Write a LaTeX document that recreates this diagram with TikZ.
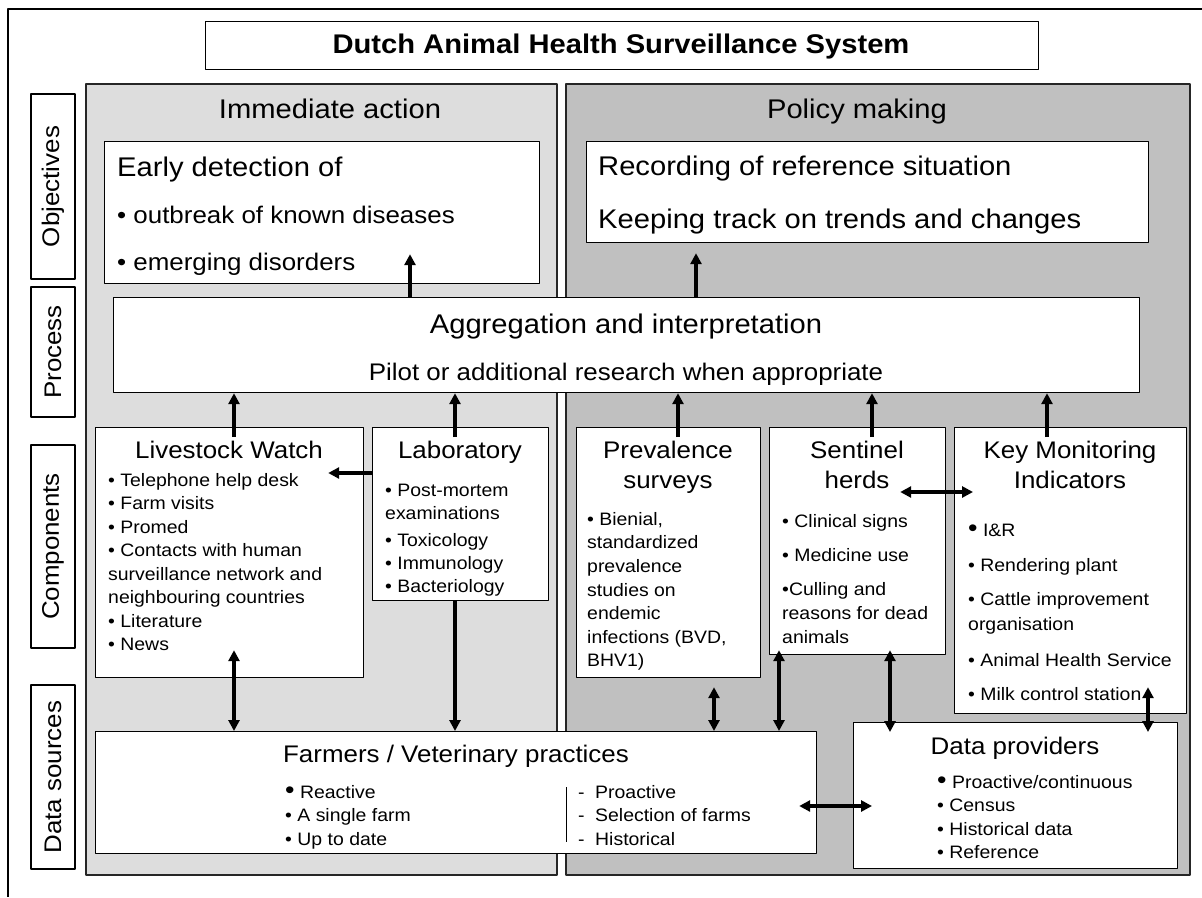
\documentclass[tikz,border=0pt]{standalone}
\usepackage{fontspec}
\setmainfont{Liberation Sans}[FakeStretch=1.08]
\usetikzlibrary{arrows.meta}
\definecolor{immgray}{RGB}{221,221,221}
\definecolor{polgray}{RGB}{192,192,192}
\newcommand{\bigbul}{\smash{\fontsize{25}{25}\selectfont •}}
\begin{document}
\begin{tikzpicture}[x=1pt, y=-1pt, line join=round, >={Triangle[length=11pt,width=11pt]},
    box/.style={draw, fill=white, line width=1.2pt, anchor=north west, inner sep=0pt},
    rowlab/.style={draw, fill=white, line width=1.4pt, rotate=90, minimum height=44pt, inner sep=0pt, font=\fontsize{24}{28}\selectfont},
    big/.style={font=\fontsize{27}{32}\selectfont, inner sep=0pt},
    mid/.style={font=\fontsize{24}{30}\selectfont, inner sep=0pt},
    body/.style={font=\fontsize{18}{23.5}\selectfont, inner sep=0pt, anchor=north west, align=left},
    arr/.style={->, line width=3.5pt},
    darr/.style={<->, line width=3.5pt}]
    \useasboundingbox (0,0) rectangle (1202,897);
    %%%%%%%%%%%%%%%%%%%%%%%%%%%%%%%%%
    \coordinate (c1) at (410,0);
    \coordinate (c2) at (696,0);
    \coordinate (c3) at (234,0);
    \coordinate (c4) at (455,0);
    \coordinate (c5) at (678,0);
    \coordinate (c6) at (872,0);
    \coordinate (c7) at (1047,0);
    \coordinate (c8) at (714,0);
    \coordinate (c9) at (779,0);
    \coordinate (c10) at (890,0);
    \coordinate (c11) at (1148,0);
    \coordinate (r1) at (0,473);
    \coordinate (r2) at (0,492);
    \coordinate (r3) at (0,806);
    %%%%%%%%%%%%%%%%%%%%%%%%%%%%%%%%%
    \draw[line width=1.5pt] (1202,9) -- (8,9) -- (8,897);
    \begin{scope}[draw=black!85, line width=1.3pt]
        \filldraw[fill=immgray] (86,84) rectangle (557,875);
        \filldraw[fill=polgray] (566,84) rectangle (1190,875);
    \end{scope}
    %%%%%%%%%%%%%%%%%%%%%%%%%%%%%%%%%
    \node[box, minimum width=833pt, minimum height=48pt] (title) at (205,21) {};
    \node[inner sep=0pt, anchor=base, font=\fontsize{27}{32}\selectfont\bfseries] (titletxt) at (621,53) {Dutch Animal Health Surveillance System};
    \node[rowlab, minimum width=185pt] (objlab) at (53,186.5) {Objectives};
    \node[rowlab, minimum width=130pt] (proclab) at (53,352) {Process};
    \node[rowlab, minimum width=203pt] (complab) at (53,546.5) {Components};
    \node[rowlab, minimum width=184pt] (datalab) at (53,777) {Data sources};
    \node[big, anchor=base] (immhead) at (330,118) {Immediate action};
    \node[big, anchor=base] (polhead) at (857,118) {Policy making};
    %%%%%%%%%%%%%%%%%%%%%%%%%%%%%%%%%
    \node[box, minimum width=435pt, minimum height=142pt] (ed) at (104,141) {};
    \node[big, anchor=base west] (edhead) at (117,176) {Early detection of};
    \node[inner sep=0pt, anchor=north west, align=left, font=\fontsize{24}{47}\selectfont] (edlist) at (117,205.7) {• outbreak of known diseases\\• emerging disorders};
    \node[box, minimum width=562pt, minimum height=101pt] (rec) at (586,141) {};
    \node[inner sep=0pt, anchor=north west, align=left, font=\fontsize{27}{53}\selectfont] (rectxt) at (598,155.6) {Recording of reference situation\\Keeping track on trends and changes};
    %%%%%%%%%%%%%%%%%%%%%%%%%%%%%%%%%
    \node[box, minimum width=1026pt, minimum height=95pt] (agg) at (113,297) {};
    \node[big, anchor=base] (aggtxt) at (626,333) {Aggregation and interpretation};
    \node[mid, anchor=base] (pilottxt) at (626,380) {Pilot or additional research when appropriate};
    %%%%%%%%%%%%%%%%%%%%%%%%%%%%%%%%%
    \node[box, minimum width=268pt, minimum height=250pt] (lw) at (95,427) {};
    \node[mid, anchor=base] (lwhead) at (229,458) {Livestock Watch};
    \node[body] (lwlist) at (108,473) {• Telephone help desk\\• Farm visits\\• Promed\\• Contacts with human\\surveillance network and\\neighbouring countries\\• Literature\\• News};
    \node[box, minimum width=176pt, minimum height=173pt] (lab) at (372,427) {};
    \node[mid, anchor=base] (labhead) at (460,458) {Laboratory};
    \node[body, font=\fontsize{18}{23}\selectfont] (lablist) at (385,484) {• Post-mortem\\examinations\\[4pt]• Toxicology\\• Immunology\\• Bacteriology};
    \node[box, minimum width=184pt, minimum height=250pt] (prev) at (576,427) {};
    \node[mid, anchor=north, align=center] (prevhead) at (668,440.7) {Prevalence\\surveys};
    \node[body, font=\fontsize{18}{23.6}\selectfont] (prevlist) at (587,512) {• Bienial,\\standardized\\prevalence\\studies on\\endemic\\infections (BVD,\\BHV1)};
    \node[box, minimum width=176pt, minimum height=227pt] (sen) at (769,427) {};
    \node[mid, anchor=north, align=center] (senhead) at (857,440.7) {Sentinel\\herds};
    \node[body, font=\fontsize{18}{24}\selectfont] (senlist) at (782,514) {• Clinical signs\\[10pt]• Medicine use\\[10pt]•Culling and\\reasons for dead\\animals};
    \node[box, minimum width=232pt, minimum height=286pt] (kmi) at (954,427) {};
    \node[mid, anchor=north, align=center] (kmihead) at (1070,440.7) {Key Monitoring\\Indicators};
    \node[body, font=\fontsize{18}{25}\selectfont] (kmilist) at (968,524) {\bigbul\ I\&R\\[10pt]• Rendering plant\\[9pt]• Cattle improvement\\organisation\\[11pt]• Animal Health Service\\[9pt]• Milk control station};
    %%%%%%%%%%%%%%%%%%%%%%%%%%%%%%%%%
    \node[box, minimum width=721pt, minimum height=122pt] (farm) at (95,731) {};
    \node[mid, anchor=base] (farmhead) at (456,762) {Farmers / Veterinary practices};
    \node[body] (farmleft) at (285,785) {\bigbul\ Reactive\\• A single farm\\• Up to date};
    \node[body] (farmright) at (578,785) {\makebox[17pt][l]{-}Proactive\\\makebox[17pt][l]{-}Selection of farms\\\makebox[17pt][l]{-}Historical};
    \draw[line width=1pt] (566,787) -- (566,842);
    \node[box, minimum width=324pt, minimum height=146pt] (dp) at (853,722) {};
    \node[mid, anchor=base] (dphead) at (1015,754) {Data providers};
    \node[body] (dplist) at (937,775) {\bigbul\ Proactive/continuous\\• Census\\• Historical data\\• Reference};
    %%%%%%%%%%%%%%%%%%%%%%%%%%%%%%%%%
    \draw[arr, shorten >=-30pt] (agg.north -| c1) -- (ed.south -| c1);
    \draw[arr, shorten >=10pt] (agg.north -| c2) -- (rec.south -| c2);
    \foreach \col/\nd in {c3/lw, c4/lab, c5/prev, c6/sen, c7/kmi}
        \draw[arr, shorten <=-10pt] (\nd.north -| \col) -- (agg.south -| \col);
    \draw[arr, shorten >=-36pt] (lab.west |- r1) -- (lw.east |- r1);
    \draw[darr, shorten <=-46pt, shorten >=-19pt] (sen.east |- r2) -- (kmi.west |- r2);
    \draw[darr, shorten <=-28pt] (lw.south -| c3) -- (farm.north -| c3);
    \draw[arr, line width=4.5pt] (lab.south -| c4) -- (farm.north -| c4);
    \draw[darr, shorten <=9pt] (prev.south -| c8) -- (farm.north -| c8);
    \draw[darr, shorten <=-5pt] (sen.south -| c9) -- (farm.north -| c9);
    \draw[darr, shorten <=-5pt, shorten >=-10pt] (sen.south -| c10) -- (dp.north -| c10);
    \draw[darr, shorten <=-27pt, shorten >=-10pt] (kmi.south -| c11) -- (dp.north -| c11);
    \draw[darr, shorten <=-18pt, shorten >=-19pt] (farm.east |- r3) -- (dp.west |- r3);
    %%%%%%%%%%%%%%%%%%%%%%%%%%%%%%%%%
\end{tikzpicture}
\end{document}
